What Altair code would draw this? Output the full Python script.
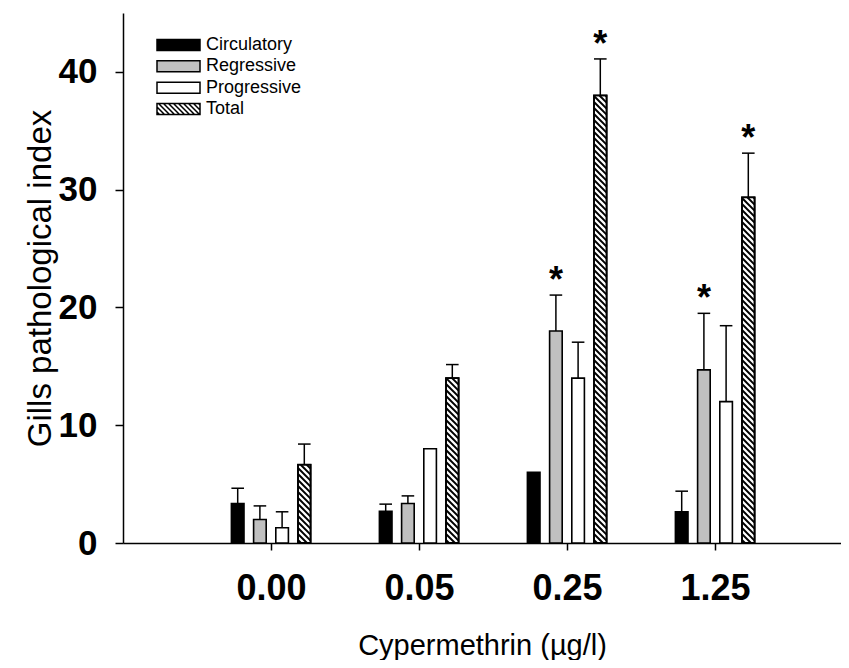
import altair as alt
import pandas as pd
import numpy as np

# ---------------- data ----------------
concentrations = ["0.00", "0.05", "0.25", "1.25"]
series_names = ["Circulatory", "Regressive", "Progressive", "Total"]

circulatory = [3.35, 2.7, 6.0, 2.65]
circulatory_se = [1.3, 0.6, 0.0, 1.75]
regressive = [2.0, 3.35, 18.0, 14.7]
regressive_se = [1.15, 0.65, 3.05, 4.8]
progressive = [1.3, 8.0, 14.0, 12.0]
progressive_se = [1.35, 0.0, 3.05, 6.45]
total = [6.65, 14.0, 38.0, 29.35]
total_se = [1.75, 1.15, 3.1, 3.75]

significant_regressive = [False, False, True, True]
significant_total = [False, False, True, True]

values = [circulatory, regressive, progressive, total]
errors = [circulatory_se, regressive_se, progressive_se, total_se]
sigs = [[False] * 4, significant_regressive, [False] * 4, significant_total]

# ---------------- layout ----------------
W, H = 718, 530
PX = 148.0                      # pixels per concentration slot
X_MAX = W / PX
Y_MAX = 45
PY = H / Y_MAX                  # pixels per y unit
SLOT = 22.2 / PX                # distance between bar centres
HALF = 6.3 / PX                 # half bar width
slot_pos = [-1.5, -0.5, 0.5, 1.5]
FONT = "Liberation Sans"

rows = []
for s, name in enumerate(series_names):
    for g in range(len(concentrations)):
        c = (g + 1) + slot_pos[s] * SLOT
        rows.append(dict(series=name, conc=concentrations[g], center=c,
                         xl=c - HALF, xr=c + HALF, value=values[s][g],
                         se=errors[s][g], top=values[s][g] + errors[s][g],
                         sig=sigs[s][g]))
df = pd.DataFrame(rows)

# hatch lines for the "Total" bars (diagonal, top-left to bottom-right)
hatch = []
step = 6.0 / PY
k = PX / PY
for g in range(len(concentrations)):
    c0 = (g + 1) + slot_pos[3] * SLOT
    xl, xr, v = c0 - HALF, c0 + HALF, total[g]
    drop = (xr - xl) * k
    for c in np.arange(step / 2, v + drop, step):
        x1, y1, x2, y2 = xl, c, xr, c - drop
        if y1 > v:
            x1, y1 = xl + (c - v) / k, v
        if y2 < 0:
            x2, y2 = xl + c / k, 0.0
        if x2 > x1:
            hatch.append(dict(hx1=x1, hx2=x2, hy1=y1, hy2=y2))
hatch_df = pd.DataFrame(hatch)

# ---------------- encodings ----------------
x_scale = alt.Scale(domain=[0, X_MAX], nice=False, zero=False)
y_scale = alt.Scale(domain=[0, Y_MAX], nice=False)
label_expr = "[" + ",".join("'%s'" % c for c in concentrations) + "][datum.value - 1]"
x_axis = alt.Axis(values=[1, 2, 3, 4], labelExpr=label_expr,
                  title="Cypermethrin (µg/l)", labelFontSize=36, labelFontWeight="bold",
                  labelPadding=21, tickSize=7, titleFontSize=29, titleFontWeight="normal",
                  titleY=111, titleBaseline="alphabetic", grid=False)
y_axis = alt.Axis(values=[0, 10, 20, 30, 40], title="Gills pathological index",
                  labelFontSize=35, labelFontWeight="bold", labelPadding=18, tickSize=8,
                  titleFontSize=33, titleFontWeight="normal", titleX=-73,
                  titleBaseline="alphabetic", grid=False)


def X(f):
    return alt.X(f, type="quantitative", scale=x_scale, axis=x_axis)


def Y(f):
    return alt.Y(f, type="quantitative", scale=y_scale, axis=y_axis)


fill_scale = alt.Scale(domain=series_names, range=["black", "#c0c0c0", "white", "white"])

base = alt.Chart(df)
bars = base.mark_bar(stroke="black", strokeWidth=1.6).encode(
    x=X("xl"), x2="xr", y=Y("value"), y2=alt.datum(0),
    fill=alt.Fill("series:N", scale=fill_scale, legend=None))
hatch_layer = alt.Chart(hatch_df).mark_rule(color="black", strokeWidth=2).encode(
    x=X("hx1"), x2="hx2", y=Y("hy1"), y2="hy2")
outline = base.transform_filter(alt.datum.series == "Total").mark_bar(
    fillOpacity=0, stroke="black", strokeWidth=1.8).encode(
    x=X("xl"), x2="xr", y=Y("value"), y2=alt.datum(0))
err = base.transform_filter("datum.se > 0").mark_rule(color="black", strokeWidth=1.5).encode(
    x=X("center"), y=Y("value"), y2="top")
caps = base.transform_filter("datum.se > 0").mark_rule(color="black", strokeWidth=1.5).encode(
    x=X("xl"), x2="xr", y=Y("top"))
stars = base.transform_filter("datum.sig").mark_text(
    text="*", fontSize=36, fontWeight="bold", font=FONT, dy=-3, baseline="alphabetic",
    color="black").encode(x=X("center"), y=Y("top"))

main = alt.layer(bars, hatch_layer, outline, err, caps, stars)

# ---------------- legend (custom, with hatched swatch) ----------------
hw, hh = 1.0, 5.5 / 21.5
rect_path = "M%.3f,%.3fL%.3f,%.3fL%.3f,%.3fL%.3f,%.3fZ" % (-hw, -hh, hw, -hh, hw, hh, -hw, hh)
lines = []
sp = 5.0 / 21.5
for a in np.arange(-hw - 2 * hh + sp / 2, hw, sp):
    xa, ya, xb, yb = a, -hh, a + 2 * hh, hh
    if xa < -hw:
        ya, xa = -hh + (-hw - a), -hw
    if xb > hw:
        yb, xb = -hh + (hw - a), hw
    if xb > xa:
        lines.append("M%.3f,%.3fL%.3f,%.3f" % (xa, ya, xb, yb))
hatch_path = rect_path + "".join(lines)

legend_df = pd.DataFrame({"series": series_names})
leg_y = alt.Y("series:N", scale=alt.Scale(type="point", domain=series_names,
                                          range=[32, 96], padding=0), axis=None)
leg_pts = alt.Chart(legend_df).mark_point(
    filled=True, stroke="black", strokeWidth=1.5, size=1849, opacity=1).encode(
    x=alt.value(55.5), y=leg_y,
    shape=alt.Shape("series:N", scale=alt.Scale(domain=series_names,
                    range=[rect_path, rect_path, rect_path, hatch_path]), legend=None),
    fill=alt.Fill("series:N", scale=fill_scale, legend=None))
leg_txt = alt.Chart(legend_df).mark_text(
    align="left", baseline="middle", fontSize=18, font=FONT, color="black").encode(
    x=alt.value(83), y=leg_y, text="series:N")
legend = alt.layer(leg_pts, leg_txt)

chart = alt.layer(main, legend).resolve_scale(y="independent").properties(
    width=W, height=H,
    autosize=alt.AutoSizeParams(type="none"),
    padding={"left": 115, "top": 5, "right": 0, "bottom": 117},
).configure_view(stroke=None).configure_axis(
    domainColor="black", domainWidth=1.5, tickColor="black", tickWidth=1.5,
    labelColor="black", titleColor="black", labelFont=FONT, titleFont=FONT)

chart.save("out.html", embed_options={"renderer": "svg", "actions": False})
